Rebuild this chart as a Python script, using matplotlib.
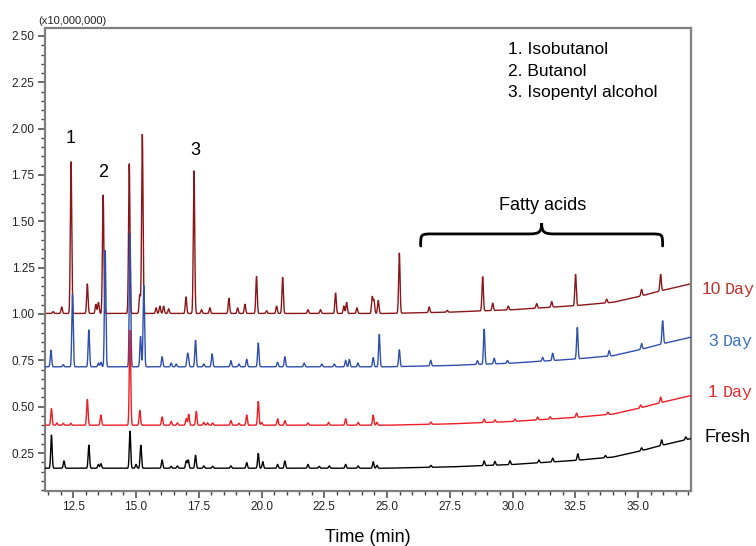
import numpy as np
import matplotlib
matplotlib.use("Agg")
import matplotlib.pyplot as plt
from matplotlib.path import Path
from matplotlib.patches import PathPatch
from matplotlib.ticker import MultipleLocator, FormatStrFormatter

# ---- chromatogram data: retention time (min) and peak height (x10,000,000) ----
fresh_rt = [11.63, 12.13, 13.12, 13.50, 13.60, 14.76, 15.00, 15.19, 16.04, 16.40,
            16.65, 17.00, 17.08, 17.37, 17.70, 18.05, 18.78, 19.41, 19.87, 20.05,
            20.64, 20.93, 21.85, 22.30, 22.70, 23.35, 23.85, 24.45, 24.60, 26.75,
            28.87, 29.30, 29.90, 31.05, 31.60, 32.60, 33.70, 35.14, 35.94, 36.90]
fresh_h = [0.18, 0.04, 0.125, 0.02, 0.025, 0.20, 0.02, 0.125, 0.045, 0.01,
           0.012, 0.04, 0.045, 0.07, 0.012, 0.01, 0.012, 0.03, 0.08, 0.035,
           0.02, 0.04, 0.02, 0.01, 0.012, 0.02, 0.012, 0.035, 0.015, 0.01,
           0.025, 0.02, 0.02, 0.015, 0.02, 0.035, 0.012, 0.015, 0.03, 0.015]

day1_rt = [11.63, 11.85, 12.10, 12.40, 13.06, 13.60, 14.76, 15.15, 16.04, 16.40,
           16.65, 17.00, 17.10, 17.40, 17.70, 17.85, 18.05, 18.78, 19.10, 19.41,
           19.87, 20.00, 20.64, 20.93, 21.85, 22.67, 23.35, 23.85, 24.45, 24.60,
           26.75, 28.87, 29.30, 30.10, 31.00, 31.50, 32.55, 33.80, 35.10, 35.90]
day1_h = [0.09, 0.012, 0.01, 0.01, 0.14, 0.055, 0.513, 0.08, 0.045, 0.02,
          0.012, 0.035, 0.06, 0.075, 0.015, 0.012, 0.012, 0.025, 0.01, 0.055,
          0.13, 0.015, 0.035, 0.025, 0.012, 0.015, 0.035, 0.015, 0.055, 0.015,
          0.012, 0.018, 0.012, 0.012, 0.015, 0.012, 0.022, 0.012, 0.015, 0.03]

day3_rt = [11.61, 12.10, 12.47, 13.12, 13.50, 13.60, 13.77, 14.76, 15.18, 15.31,
           16.04, 16.40, 16.60, 17.04, 17.08, 17.37, 17.70, 18.03, 18.78, 19.10,
           19.41, 19.87, 20.64, 20.93, 21.70, 22.40, 22.90, 23.35, 23.50, 23.84,
           24.45, 24.69, 25.49, 26.74, 28.60, 28.87, 29.27, 29.80, 31.20, 31.60,
           32.58, 33.85, 35.14, 35.98]
day3_h = [0.09, 0.012, 0.39, 0.2, 0.02, 0.025, 0.63, 0.72, 0.165, 0.44,
          0.055, 0.02, 0.015, 0.045, 0.05, 0.145, 0.015, 0.07, 0.033, 0.015,
          0.04, 0.13, 0.025, 0.055, 0.02, 0.015, 0.015, 0.035, 0.04, 0.02,
          0.05, 0.175, 0.09, 0.03, 0.02, 0.19, 0.03, 0.015, 0.02, 0.04,
          0.17, 0.03, 0.03, 0.125]

day10_rt = [11.70, 12.04, 12.41, 13.06, 13.40, 13.50, 13.69, 14.73, 15.15, 15.25,
            15.80, 15.95, 16.10, 16.30, 16.99, 17.31, 17.61, 17.94, 18.70, 19.05,
            19.34, 19.80, 20.20, 20.60, 20.84, 21.85, 22.35, 22.95, 23.28, 23.39,
            23.80, 24.41, 24.48, 24.65, 25.49, 26.68, 27.40, 28.81, 29.21, 29.83,
            30.96, 31.56, 32.51, 33.75, 35.14, 35.90]
day10_h = [0.01, 0.035, 0.82, 0.16, 0.05, 0.06, 0.64, 0.81, 0.1, 0.967,
           0.03, 0.04, 0.04, 0.025, 0.09, 0.77, 0.02, 0.03, 0.083, 0.03,
           0.05, 0.2, 0.015, 0.04, 0.195, 0.02, 0.02, 0.11, 0.04, 0.06,
           0.03, 0.09, 0.07, 0.07, 0.325, 0.03, 0.01, 0.185, 0.04, 0.02,
           0.025, 0.03, 0.17, 0.02, 0.035, 0.09]

# baseline drift of the column at late retention times
drift_t = [11.37, 25.0, 27.5, 30.0, 32.5, 34.0, 35.0, 36.0, 37.11]
drift_v = [0.0, 0.0, 0.007, 0.02, 0.042, 0.06, 0.09, 0.125, 0.16]

labels = ["Fresh", "1", "3", "10"]
offsets = [0.168, 0.400, 0.715, 1.003]
line_colors = ["#000000", "#ee1c24", "#2f4fae", "#8b1518"]
label_colors = ["#000000", "#e8262b", "#3a6fc4", "#c0302c"]
peak_sets = [(fresh_rt, fresh_h), (day1_rt, day1_h), (day3_rt, day3_h), (day10_rt, day10_h)]

XMIN, XMAX = 11.373, 37.11
YMIN, YMAX = 0.045, 2.543

t = np.linspace(XMIN, XMAX, 6000)
base = np.interp(t, drift_t, drift_v)
SIGMA = 0.028


def trace(rts, hs, offset):
    y = np.full_like(t, offset) + base
    for rt, h in zip(rts, hs):
        y += h * np.exp(-0.5 * ((t - rt) / SIGMA) ** 2)
    return y


W, H = 756, 546
fig = plt.figure(figsize=(W / 100, H / 100), dpi=100)
ax = fig.add_axes([45 / W, 1 - 491 / H, (691 - 45) / W, (491 - 28) / H])

# draw from top trace down so lower traces sit on top
for i in [3, 2, 1, 0]:
    rts, hs = peak_sets[i]
    ax.plot(t, trace(rts, hs, offsets[i]), color=line_colors[i], lw=1.0,
            solid_joinstyle="miter", zorder=2 + (3 - i))

ax.set_xlim(XMIN, XMAX)
ax.set_ylim(YMIN, YMAX)
ax.xaxis.set_major_locator(MultipleLocator(2.5))
ax.xaxis.set_minor_locator(MultipleLocator(0.5))
ax.yaxis.set_major_locator(MultipleLocator(0.25))
ax.yaxis.set_minor_locator(MultipleLocator(0.05))
ax.xaxis.set_major_formatter(FormatStrFormatter("%.1f"))
ax.yaxis.set_major_formatter(FormatStrFormatter("%.2f"))

for s in ax.spines.values():
    s.set_color("#7f7f7f")
    s.set_linewidth(1.6)

ax.tick_params(which="major", direction="out", length=5, width=1.1, color="#444444",
               labelsize=8.5, labelcolor="#222222", pad=2.5)
ax.tick_params(which="minor", direction="out", length=3, width=1.0, color="#444444")
for lab in ax.get_xticklabels() + ax.get_yticklabels():
    lab.set_family("Liberation Sans")

ax.set_xlabel("Time (min)", family="Liberation Sans", fontsize=13, labelpad=11)

sans = "Liberation Sans"
fig.text(38 / W, 1 - 24 / H, "(x10,000,000)", family=sans, fontsize=8, va="baseline",
         color="#222222")

# compound numbers above their peaks
ax.text(12.41, 1.945, "1", family=sans, fontsize=13, ha="center", va="center")
ax.text(13.69, 1.763, "2", family=sans, fontsize=13, ha="center", va="center")
ax.text(17.38, 1.880, "3", family=sans, fontsize=13, ha="center", va="center")

for txt, ypx in [("1. Isobutanol", 50), ("2. Butanol", 71), ("3. Isopentyl alcohol", 92)]:
    fig.text(508 / W, 1 - ypx / H, txt, family=sans, fontsize=12.5, va="center")

fig.text(543 / W, 1 - 206 / H, "Fatty acids", family=sans, fontsize=13,
         ha="center", va="center")

# curly brace spanning the fatty-acid region
x0, x1, xc = 26.34, 35.98, 31.16
y_end, y_h, y_tip = 1.367, 1.432, 1.490
r = 0.5
verts = [(x0, y_end), (x0, y_h), (x0, y_h), (x0 + r, y_h),
         (xc - r, y_h),
         (xc - 0.1, y_h), (xc, y_h + 0.01), (xc, y_tip),
         (xc, y_h + 0.01), (xc + 0.1, y_h), (xc + r, y_h),
         (x1 - r, y_h),
         (x1, y_h), (x1, y_h), (x1, y_end)]
codes = [Path.MOVETO, Path.CURVE4, Path.CURVE4, Path.CURVE4,
         Path.LINETO,
         Path.CURVE4, Path.CURVE4, Path.CURVE4,
         Path.CURVE4, Path.CURVE4, Path.CURVE4,
         Path.LINETO,
         Path.CURVE4, Path.CURVE4, Path.CURVE4]
ax.add_patch(PathPatch(Path(verts, codes), fill=False, lw=2.0, color="black",
                       capstyle="round", clip_on=False))

# trace names at the right edge
mono = "Liberation Mono"
fig.text(702 / W, 1 - 294 / H, "10", family=sans, fontsize=12.5, color=label_colors[3], va="baseline")
fig.text(725 / W, 1 - 294 / H, "Day", family=mono, fontsize=12, color=label_colors[3], va="baseline")
fig.text(708 / W, 1 - 346 / H, "3", family=sans, fontsize=12.5, color=label_colors[2], va="baseline")
fig.text(723 / W, 1 - 346 / H, "Day", family=mono, fontsize=12, color=label_colors[2], va="baseline")
fig.text(708 / W, 1 - 397 / H, "1", family=sans, fontsize=12.5, color=label_colors[1], va="baseline")
fig.text(723 / W, 1 - 397 / H, "Day", family=mono, fontsize=12, color=label_colors[1], va="baseline")
fig.text(704 / W, 1 - 442 / H, "Fresh", family=sans, fontsize=13, color=label_colors[0], va="baseline")

fig.savefig("out.png", dpi=100)
